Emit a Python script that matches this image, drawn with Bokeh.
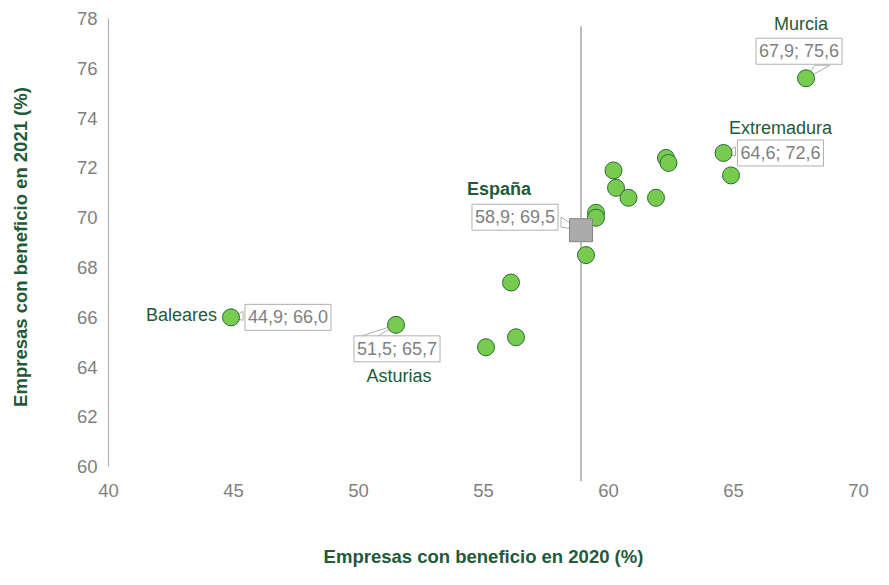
from bokeh.plotting import figure
from bokeh.models import Range1d, Label, FixedTicker
from bokeh.embed import file_html
from bokeh.resources import INLINE

# ---- data ----
x2020 = [67.9, 64.6, 64.9, 62.3, 62.4, 60.2, 60.3, 60.8, 61.9, 59.5, 59.5, 59.1, 56.1, 56.3, 55.1, 51.5, 44.9]
y2021 = [75.6, 72.6, 71.7, 72.4, 72.2, 71.9, 71.2, 70.8, 70.8, 70.2, 70.0, 68.5, 67.4, 65.2, 64.8, 65.7, 66.0]

labeled_names = ["Murcia", "Extremadura", "Asturias", "Baleares"]
labeled_x = [67.9, 64.6, 51.5, 44.9]
labeled_y = [75.6, 72.6, 65.7, 66.0]

espana_name = "España"
espana_x = 58.9
espana_y = 69.5

x_ticks = [40, 45, 50, 55, 60, 65, 70]
y_ticks = [60, 62, 64, 66, 68, 70, 72, 74, 76, 78]

GREEN_TXT = "#1f5a3a"
GREY_TXT = "#7f7f7f"

def fmt(a, b):
    return f"{a:.1f}; {b:.1f}".replace(".", ",")

p = figure(width=873, height=569, output_backend="svg", toolbar_location=None,
           x_range=Range1d(40, 70), y_range=Range1d(59.41, 78.24),
           min_border_left=108, min_border_right=15, min_border_top=12, min_border_bottom=88)
p.outline_line_color = None
p.grid.grid_line_color = None
p.background_fill_color = "white"

# axes
p.xaxis.ticker = FixedTicker(ticks=x_ticks)
p.yaxis.ticker = FixedTicker(ticks=y_ticks)
p.xaxis.axis_line_color = None
p.xaxis.major_tick_line_color = None
p.xaxis.minor_tick_line_color = None
p.xaxis.major_tick_out = 0
p.xaxis.major_label_standoff = 2
p.yaxis.bounds = (60, 78)
p.yaxis.axis_line_color = "#b3b3b3"
p.yaxis.axis_line_width = 1.2
p.yaxis.major_tick_line_color = None
p.yaxis.minor_tick_line_color = None
p.yaxis.major_tick_out = 0
p.yaxis.major_label_standoff = 11
for ax in (p.xaxis, p.yaxis):
    ax.major_label_text_font = "Liberation Sans"
    ax.major_label_text_font_size = "18.5px"
    ax.major_label_text_color = GREY_TXT
    ax.axis_label_text_font = "Liberation Sans"
    ax.axis_label_text_font_style = "bold"
    ax.axis_label_text_font_size = "18.5px"
    ax.axis_label_text_color = GREEN_TXT
p.xaxis.axis_label = "Empresas con beneficio en 2020 (%)"
p.yaxis.axis_label = "Empresas con beneficio en 2021 (%)"
p.xaxis.axis_label_standoff = 46
p.yaxis.axis_label_standoff = 43

# vertical reference line at Spain's value
p.segment(x0=[espana_x], y0=[77.69], x1=[espana_x], y1=[59.42],
          line_color="#9a9a9a", line_width=1.3)

# callout wedges (pixel offsets converted to data units)
SX = 25.0
SY = 24.9
wedge_px = {
    "Murcia": [(0, 0), (9, -13), (24, -13)],
    "Extremadura": [(0, 0), (12, -6), (12, 3)],
    "Asturias": [(0, 0), (-37, 12), (-19, 12)],
    "Baleares": [(0, 0), (12, -6), (12, 3)],
}
xs, ys = [], []
for n, xv, yv in zip(labeled_names, labeled_x, labeled_y):
    pts = wedge_px[n]
    xs.append([xv + dx / SX for dx, dy in pts])
    ys.append([yv - dy / SY for dx, dy in pts])
es_pts = [(0, 0), (-20, -13), (-20, -3)]
xs.append([espana_x + dx / SX for dx, dy in es_pts])
ys.append([espana_y - dy / SY for dx, dy in es_pts])
p.patches(xs, ys, fill_color="white", line_color="#b0b0b0", line_width=1)

# points
p.scatter(x2020, y2021, marker="circle", size=17, fill_color="#77cc50",
          line_color="#2b6b36", line_width=1)
p.scatter([espana_x], [espana_y], marker="square", size=23, fill_color="#ababab",
          line_color="#858585", line_width=1)

# labels
box_off = {"Murcia": (-7, 27), "Extremadura": (57, 0), "Asturias": (1, -24), "Baleares": (57, 0)}
name_off = {"Murcia": (-5, 54, "center"), "Extremadura": (57, 25, "center"),
            "Asturias": (3, -51, "center"), "Baleares": (-14, 2, "right")}

BOX_FONT = "18px"
NAME_FONT = "18px"

for n, xv, yv in zip(labeled_names, labeled_x, labeled_y):
    bx, by = box_off[n]
    p.add_layout(Label(x=xv, y=yv, x_offset=bx, y_offset=by, text=fmt(xv, yv),
                       text_align="center", text_baseline="middle",
                       text_font="Liberation Sans", text_font_size=BOX_FONT, text_color=GREY_TXT,
                       background_fill_color="white", border_line_color="#b0b0b0",
                       border_line_width=1, padding=3))
    nx, ny, al = name_off[n]
    p.add_layout(Label(x=xv, y=yv, x_offset=nx, y_offset=ny, text=n,
                       text_align=al, text_baseline="middle",
                       text_font="Liberation Sans", text_font_size=NAME_FONT, text_color=GREEN_TXT))

p.add_layout(Label(x=espana_x, y=espana_y, x_offset=-66, y_offset=13, text=fmt(espana_x, espana_y),
                   text_align="center", text_baseline="middle",
                   text_font="Liberation Sans", text_font_size=BOX_FONT, text_color=GREY_TXT,
                   background_fill_color="white", border_line_color="#b0b0b0",
                   border_line_width=1, padding=3))
p.add_layout(Label(x=espana_x, y=espana_y, x_offset=-82, y_offset=41, text=espana_name,
                   text_align="center", text_baseline="middle",
                   text_font="Liberation Sans", text_font_size=NAME_FONT, text_font_style="bold",
                   text_color=GREEN_TXT))

open("out.html", "w").write(file_html(p, INLINE))
